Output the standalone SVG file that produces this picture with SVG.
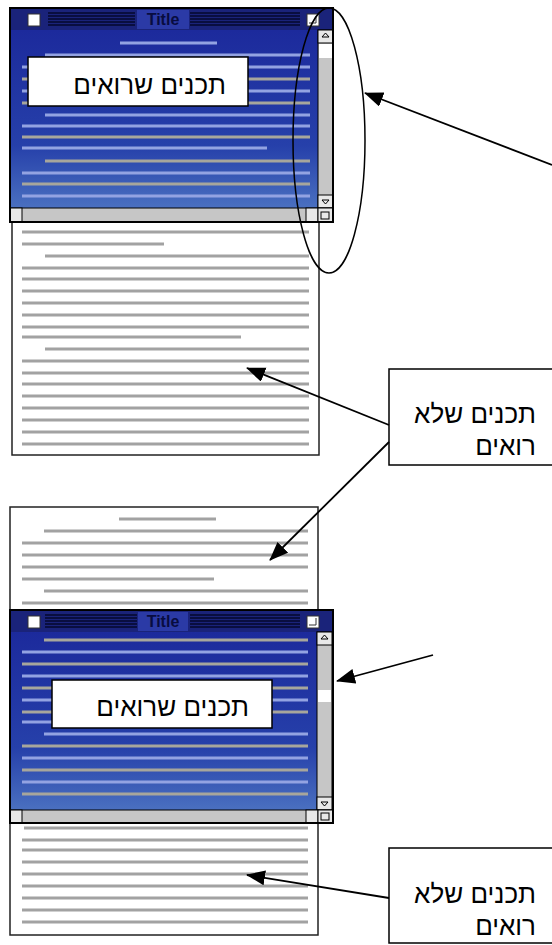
<svg xmlns="http://www.w3.org/2000/svg" width="552" height="945" viewBox="0 0 552 945">
<defs>
<linearGradient id="blueg" x1="0" y1="0" x2="0" y2="1">
<stop offset="0" stop-color="#1c2a9c"/>
<stop offset="0.65" stop-color="#2640aa"/>
<stop offset="1" stop-color="#4a70c0"/>
</linearGradient>
<marker id="ah" markerUnits="userSpaceOnUse" markerWidth="20" markerHeight="16" refX="18" refY="7.5" orient="auto">
<path d="M0,0 L19,7.5 L0,15 Z" fill="#000"/>
</marker>
<style>
.doc{fill:#fff;stroke:#222;stroke-width:1.5}
.gl{stroke:#a2a2a2;stroke-width:3}
.bl{stroke:#93a3e2;stroke-width:3}
.tl{stroke:#a7a69c;stroke-width:3}
.frame{fill:none;stroke:#000;stroke-width:2}
.bar{fill:#1a237a}
.tbox{fill:#2b3aa6}
.stripe{stroke:#05082e;stroke-width:1.5}
.sb{fill:#c6c6c6;stroke:#000;stroke-width:1}
.btn{fill:#e8e8e8;stroke:#000;stroke-width:1}
.lbl{fill:#fff;stroke:#000;stroke-width:1.5}
.ht{font-family:"Liberation Sans","DejaVu Sans",sans-serif;font-size:26px;fill:#000;text-anchor:end}
.ttl{font-family:"Liberation Sans","DejaVu Sans",sans-serif;font-size:16px;font-weight:bold;fill:#080c40;text-anchor:middle}
.con{stroke:#000;stroke-width:1.8;fill:none}
</style>
</defs>
<rect width="552" height="945" fill="#fff"/>

<g id="doc1">
<rect class="doc" x="12" y="215" width="307" height="240"/>
<line class="gl" x1="22" y1="232" x2="309" y2="232"/>
<line class="gl" x1="22" y1="244" x2="164" y2="244"/>
<line class="gl" x1="45" y1="256" x2="309" y2="256"/>
<line class="gl" x1="22" y1="268" x2="309" y2="268"/>
<line class="gl" x1="22" y1="279" x2="309" y2="279"/>
<line class="gl" x1="22" y1="291" x2="309" y2="291"/>
<line class="gl" x1="22" y1="303" x2="309" y2="303"/>
<line class="gl" x1="22" y1="315" x2="309" y2="315"/>
<line class="gl" x1="22" y1="327" x2="309" y2="327"/>
<line class="gl" x1="22" y1="337" x2="241" y2="337"/>
<line class="gl" x1="45" y1="349" x2="309" y2="349"/>
<line class="gl" x1="22" y1="361" x2="309" y2="361"/>
<line class="gl" x1="22" y1="373" x2="309" y2="373"/>
<line class="gl" x1="22" y1="384" x2="309" y2="384"/>
<line class="gl" x1="22" y1="396" x2="309" y2="396"/>
<line class="gl" x1="22" y1="408" x2="309" y2="408"/>
<line class="gl" x1="22" y1="420" x2="309" y2="420"/>
<line class="gl" x1="22" y1="432" x2="309" y2="432"/>
<line class="gl" x1="22" y1="444" x2="309" y2="444"/>
</g>

<g id="window1">
<rect x="10" y="30" width="308" height="178" fill="url(#blueg)"/>
<line class="bl" x1="120" y1="43" x2="217" y2="43"/>
<line class="bl" x1="45" y1="55" x2="310" y2="55"/>
<line class="bl" x1="22" y1="67" x2="310" y2="67"/>
<line class="tl" x1="22" y1="79" x2="310" y2="79"/>
<line class="bl" x1="22" y1="91" x2="310" y2="91"/>
<line class="tl" x1="22" y1="103" x2="310" y2="103"/>
<line class="bl" x1="45" y1="115" x2="310" y2="115"/>
<line class="bl" x1="22" y1="126" x2="310" y2="126"/>
<line class="tl" x1="22" y1="137" x2="310" y2="137"/>
<line class="bl" x1="22" y1="148" x2="267" y2="148"/>
<line class="tl" x1="45" y1="161" x2="310" y2="161"/>
<line class="bl" x1="22" y1="173" x2="310" y2="173"/>
<line class="tl" x1="22" y1="184" x2="310" y2="184"/>
<line class="bl" x1="22" y1="196" x2="310" y2="196"/>
<rect class="bar" x="10" y="8" width="323" height="22"/>
<rect class="tbox" x="137" y="10" width="52" height="19"/>
<line class="stripe" x1="48" y1="13" x2="135" y2="13"/>
<line class="stripe" x1="48" y1="16" x2="135" y2="16"/>
<line class="stripe" x1="48" y1="19" x2="135" y2="19"/>
<line class="stripe" x1="48" y1="22" x2="135" y2="22"/>
<line class="stripe" x1="48" y1="25" x2="135" y2="25"/>
<line class="stripe" x1="190" y1="13" x2="300" y2="13"/>
<line class="stripe" x1="190" y1="16" x2="300" y2="16"/>
<line class="stripe" x1="190" y1="19" x2="300" y2="19"/>
<line class="stripe" x1="190" y1="22" x2="300" y2="22"/>
<line class="stripe" x1="190" y1="25" x2="300" y2="25"/>
<text class="ttl" x="163" y="25">Title</text>
<rect x="28" y="14" width="12" height="12" fill="#fff" stroke="#333"/>
<rect x="307" y="14" width="12" height="12" fill="#fff" stroke="#333"/>
<path d="M309,23 H316 V16" fill="none" stroke="#333" stroke-width="1"/>
<rect class="sb" x="318" y="30" width="15" height="178"/>
<rect class="btn" x="318" y="30" width="15" height="13"/>
<rect x="319" y="44" width="13" height="14" fill="#fff"/>
<rect class="btn" x="318" y="195" width="15" height="13"/>
<path d="M322,37 L325.5,33 L329,37 M322,37 L329,37" fill="none" stroke="#000"/>
<path d="M322,200 L325.5,204 L329,200 Z" fill="none" stroke="#000"/>
<rect class="sb" x="10" y="208" width="323" height="14"/>
<rect class="btn" x="10" y="208" width="12" height="14"/>
<rect class="btn" x="306" y="208" width="12" height="14"/>
<rect class="btn" x="318" y="208" width="15" height="14"/>
<rect x="321" y="212" width="8" height="7" fill="none" stroke="#000"/>
<rect class="frame" x="10" y="8" width="323" height="214"/>
</g>

<g id="label1">
<rect class="lbl" x="28" y="57" width="220" height="49"/>
<text class="ht" x="226" y="94">תכנים שרואים</text>
</g>

<g id="ellipse1">
<ellipse cx="329" cy="140.5" rx="36" ry="132.5" fill="none" stroke="#000" stroke-width="1.5"/>
</g>

<g id="doc2">
<rect class="doc" x="10" y="507" width="308" height="428"/>
<line class="gl" x1="119" y1="519" x2="216" y2="519"/>
<line class="gl" x1="44" y1="531" x2="308" y2="531"/>
<line class="gl" x1="22" y1="543" x2="308" y2="543"/>
<line class="gl" x1="22" y1="555" x2="308" y2="555"/>
<line class="gl" x1="22" y1="567" x2="308" y2="567"/>
<line class="gl" x1="22" y1="579" x2="214" y2="579"/>
<line class="gl" x1="44" y1="591" x2="308" y2="591"/>
<line class="gl" x1="22" y1="603" x2="308" y2="603"/>
<line class="gl" x1="24" y1="828" x2="308" y2="828"/>
<line class="gl" x1="22" y1="840" x2="308" y2="840"/>
<line class="gl" x1="22" y1="850" x2="308" y2="850"/>
<line class="gl" x1="22" y1="862" x2="308" y2="862"/>
<line class="gl" x1="22" y1="874" x2="308" y2="874"/>
<line class="gl" x1="22" y1="886" x2="308" y2="886"/>
<line class="gl" x1="22" y1="898" x2="308" y2="898"/>
<line class="gl" x1="22" y1="910" x2="308" y2="910"/>
<line class="gl" x1="22" y1="922" x2="308" y2="922"/>
</g>

<g id="window2">
<rect x="10" y="632" width="307" height="178" fill="url(#blueg)"/>
<line class="tl" x1="44" y1="640" x2="308" y2="640"/>
<line class="bl" x1="22" y1="652" x2="308" y2="652"/>
<line class="tl" x1="22" y1="664" x2="308" y2="664"/>
<line class="bl" x1="22" y1="676" x2="308" y2="676"/>
<line class="tl" x1="22" y1="688" x2="308" y2="688"/>
<line class="bl" x1="22" y1="700" x2="308" y2="700"/>
<line class="tl" x1="22" y1="712" x2="308" y2="712"/>
<line class="bl" x1="22" y1="722" x2="240" y2="722"/>
<line class="bl" x1="44" y1="734" x2="308" y2="734"/>
<line class="tl" x1="22" y1="746" x2="308" y2="746"/>
<line class="bl" x1="22" y1="758" x2="308" y2="758"/>
<line class="tl" x1="22" y1="770" x2="308" y2="770"/>
<line class="bl" x1="22" y1="782" x2="308" y2="782"/>
<line class="tl" x1="22" y1="794" x2="308" y2="794"/>
<rect class="bar" x="10" y="610" width="323" height="22"/>
<rect class="tbox" x="138" y="612" width="50" height="19"/>
<line class="stripe" x1="45" y1="615" x2="137" y2="615"/>
<line class="stripe" x1="45" y1="618" x2="137" y2="618"/>
<line class="stripe" x1="45" y1="621" x2="137" y2="621"/>
<line class="stripe" x1="45" y1="624" x2="137" y2="624"/>
<line class="stripe" x1="45" y1="627" x2="137" y2="627"/>
<line class="stripe" x1="190" y1="615" x2="300" y2="615"/>
<line class="stripe" x1="190" y1="618" x2="300" y2="618"/>
<line class="stripe" x1="190" y1="621" x2="300" y2="621"/>
<line class="stripe" x1="190" y1="624" x2="300" y2="624"/>
<line class="stripe" x1="190" y1="627" x2="300" y2="627"/>
<text class="ttl" x="163" y="627">Title</text>
<rect x="28" y="616" width="12" height="12" fill="#fff" stroke="#333"/>
<rect x="307" y="616" width="12" height="12" fill="#fff" stroke="#333"/>
<path d="M309,625 H316 V618" fill="none" stroke="#333" stroke-width="1"/>
<rect class="sb" x="317" y="632" width="15" height="178"/>
<rect class="btn" x="317" y="632" width="15" height="13"/>
<rect x="318" y="690" width="13" height="12" fill="#fff"/>
<rect class="btn" x="317" y="797" width="15" height="13"/>
<path d="M321,639 L324.5,635 L328,639 M321,639 L328,639" fill="none" stroke="#000"/>
<path d="M321,802 L324.5,806 L328,802 Z" fill="none" stroke="#000"/>
<rect class="sb" x="10" y="810" width="323" height="13"/>
<rect class="btn" x="10" y="810" width="12" height="13"/>
<rect class="btn" x="306" y="810" width="12" height="13"/>
<rect class="btn" x="318" y="810" width="15" height="13"/>
<rect x="321" y="813" width="8" height="7" fill="none" stroke="#000"/>
<rect class="frame" x="10" y="610" width="323" height="213"/>
</g>

<g id="label2">
<rect class="lbl" x="52" y="680" width="220" height="48"/>
<text class="ht" x="249" y="716">תכנים שרואים</text>
</g>

<g id="callout1">
<rect class="lbl" x="389" y="369" width="200" height="96"/>
<text class="ht" x="536" y="423">תכנים שלא</text>
<text class="ht" x="536" y="455">רואים</text>
</g>

<g id="callout2">
<rect class="lbl" x="389" y="848" width="200" height="95"/>
<text class="ht" x="536" y="903">תכנים שלא</text>
<text class="ht" x="536" y="935">רואים</text>
</g>

<g id="connectors">
<line class="con" x1="552" y1="165" x2="365" y2="93" marker-end="url(#ah)"/>
<line class="con" x1="389" y1="425" x2="247" y2="368" marker-end="url(#ah)"/>
<line class="con" x1="389" y1="442" x2="270" y2="560" marker-end="url(#ah)"/>
<line class="con" x1="433" y1="655" x2="337" y2="681" marker-end="url(#ah)"/>
<line class="con" x1="389" y1="898" x2="247" y2="875" marker-end="url(#ah)"/>
</g>
</svg>
